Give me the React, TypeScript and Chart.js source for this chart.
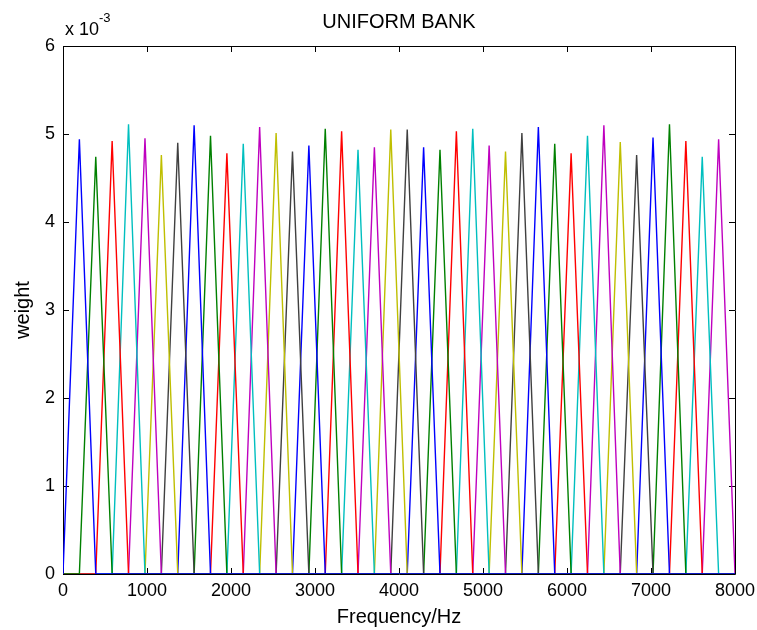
import { useEffect, useRef } from "react";
import { Chart, registerables } from "chart.js";

Chart.register(...registerables);

// Band edges of the uniform triangular filter bank (Hz). Filter k rises from
// edge k-1, peaks at edge k and falls back to zero at edge k+1.
const BAND_EDGES_HZ = [
  0, 195, 390, 585, 780, 976, 1171, 1366, 1561, 1756, 1951, 2146, 2341, 2537,
  2732, 2927, 3122, 3317, 3512, 3707, 3902, 4098, 4293, 4488, 4683, 4878, 5073,
  5268, 5463, 5659, 5854, 6049, 6244, 6439, 6634, 6829, 7024, 7220, 7415, 7610,
  7805, 8000,
];

// Sampled peak weight of each of the 40 filters.
const PEAK_WEIGHTS = [
  0.00494, 0.00474, 0.00492, 0.00511, 0.00495, 0.00476, 0.0049, 0.0051,
  0.00498, 0.00478, 0.00489, 0.00508, 0.00501, 0.0048, 0.00487, 0.00506,
  0.00503, 0.00482, 0.00485, 0.00505, 0.00505, 0.00485, 0.00482, 0.00503,
  0.00506, 0.00487, 0.0048, 0.00501, 0.00508, 0.00489, 0.00478, 0.00498,
  0.0051, 0.00491, 0.00476, 0.00496, 0.00511, 0.00492, 0.00474, 0.00494,
];

// Classic line colour order, cycled over the filters.
const LINE_COLORS = [
  "#0000ff",
  "#008000",
  "#ff0000",
  "#00bfbf",
  "#bf00bf",
  "#bfbf00",
  "#404040",
];

const X_TICKS = [0, 1000, 2000, 3000, 4000, 5000, 6000, 7000, 8000];
const Y_TICKS = [0, 0.001, 0.002, 0.003, 0.004, 0.005, 0.006];

const FONT = "'Liberation Sans', Arial, Helvetica, sans-serif";
const F_MIN = X_TICKS[0];
const F_MAX = X_TICKS[X_TICKS.length - 1];

function buildDatasets() {
  return PEAK_WEIGHTS.map((peak, i) => {
    const lo = BAND_EDGES_HZ[i];
    const mid = BAND_EDGES_HZ[i + 1];
    const hi = BAND_EDGES_HZ[i + 2];
    const color = LINE_COLORS[i % LINE_COLORS.length];
    return {
      label: `filter ${i + 1}`,
      data: [
        { x: F_MIN, y: 0 },
        { x: lo, y: 0 },
        { x: mid, y: peak },
        { x: hi, y: 0 },
        { x: F_MAX, y: 0 },
      ],
      borderColor: color,
      backgroundColor: color,
      borderWidth: 1.4,
      pointRadius: 0,
      tension: 0,
      fill: false,
    };
  });
}

// Axes box with inward tick marks on all four sides, drawn beneath the lines.
const frameAndTicks = {
  id: "frameAndTicks",
  beforeDatasetsDraw(chart: any) {
    const { ctx, chartArea: a, scales } = chart;
    const xs = scales.x;
    const ys = scales.y;
    const len = 6;
    ctx.save();
    ctx.strokeStyle = "#000";
    ctx.lineWidth = 1;
    ctx.beginPath();
    ctx.rect(a.left + 0.5, a.top + 0.5, a.right - a.left, a.bottom - a.top);
    for (const v of X_TICKS) {
      const px = Math.round(xs.getPixelForValue(v)) + 0.5;
      ctx.moveTo(px, a.bottom);
      ctx.lineTo(px, a.bottom - len);
      ctx.moveTo(px, a.top);
      ctx.lineTo(px, a.top + len);
    }
    for (const v of Y_TICKS) {
      const py = Math.round(ys.getPixelForValue(v)) + 0.5;
      ctx.moveTo(a.left, py);
      ctx.lineTo(a.left + len, py);
      ctx.moveTo(a.right, py);
      ctx.lineTo(a.right - len, py);
    }
    ctx.stroke();
    ctx.restore();
  },
};

// Power-of-ten multiplier written above the y axis.
const exponentLabel = {
  id: "exponentLabel",
  afterDraw(chart: any) {
    const { ctx, chartArea: a } = chart;
    ctx.save();
    ctx.fillStyle = "#000";
    ctx.textBaseline = "alphabetic";
    ctx.textAlign = "left";
    ctx.font = `18px ${FONT}`;
    const base = "x 10";
    ctx.fillText(base, a.left + 2, a.top - 11);
    const w = ctx.measureText(base).width;
    ctx.font = `13px ${FONT}`;
    ctx.fillText("-3", a.left + 2 + w, a.top - 24);
    ctx.restore();
  },
};

export default function App() {
  const canvasRef = useRef<HTMLCanvasElement>(null);

  useEffect(() => {
    const canvas = canvasRef.current;
    if (!canvas) return;
    const chart = new Chart(canvas, {
      type: "line",
      data: { datasets: buildDatasets() as any },
      plugins: [frameAndTicks, exponentLabel],
      options: {
        animation: false,
        responsive: false,
        devicePixelRatio: 1,
        parsing: false as any,
        layout: { padding: { left: 0, right: 22, top: 0, bottom: 0 } },
        plugins: {
          legend: { display: false },
          tooltip: { enabled: false },
          title: {
            display: true,
            text: "UNIFORM BANK",
            fullSize: false,
            color: "#000",
            font: { family: FONT, size: 20, weight: "normal" as any },
            padding: { top: 10, bottom: 12 },
          },
        },
        scales: {
          x: {
            type: "linear",
            min: F_MIN,
            max: F_MAX,
            grid: { display: false, drawTicks: false },
            border: { display: false },
            afterFit(scale: any) {
              scale.height = 56;
              scale.paddingLeft = 0;
              scale.paddingRight = 0;
            },
            afterBuildTicks(scale: any) {
              scale.ticks = X_TICKS.map((v) => ({ value: v }));
            },
            ticks: {
              color: "#000",
              padding: 6,
              maxRotation: 0,
              autoSkip: false,
              font: { family: FONT, size: 18 },
              callback: (v: any) => String(v),
            },
            title: {
              display: true,
              text: "Frequency/Hz",
              color: "#000",
              font: { family: FONT, size: 20 },
              padding: { top: 0, bottom: 1 },
            },
          },
          y: {
            type: "linear",
            min: Y_TICKS[0],
            max: Y_TICKS[Y_TICKS.length - 1],
            grid: { display: false, drawTicks: false },
            border: { display: false },
            afterFit(scale: any) {
              scale.width = 63;
              scale.paddingTop = 0;
              scale.paddingBottom = 0;
            },
            afterBuildTicks(scale: any) {
              scale.ticks = Y_TICKS.map((v) => ({ value: v }));
            },
            ticks: {
              color: "#000",
              padding: 8,
              autoSkip: false,
              font: { family: FONT, size: 18 },
              callback: (v: any) => String(Math.round(Number(v) * 1000)),
            },
            title: {
              display: true,
              text: "weight",
              color: "#000",
              font: { family: FONT, size: 20 },
              padding: { top: 11, bottom: 0 },
            },
          },
        },
      },
    });
    return () => chart.destroy();
  }, []);

  return (
    <div
      style={{
        position: "fixed",
        left: 0,
        top: 0,
        width: 757,
        height: 630,
        background: "#fff",
      }}
    >
      <canvas
        ref={canvasRef}
        width={757}
        height={630}
        style={{ display: "block" }}
      />
    </div>
  );
}
